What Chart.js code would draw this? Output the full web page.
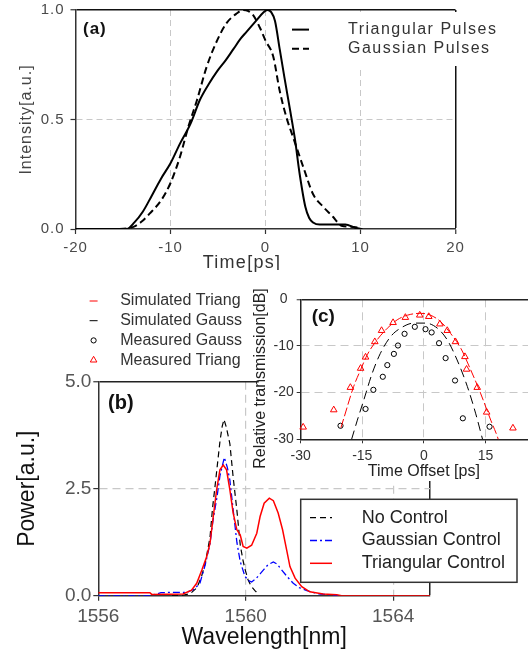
<!DOCTYPE html>
<html>
<head>
<meta charset="utf-8">
<script src="https://cdn.jsdelivr.net/npm/chart.js@4.4.1/dist/chart.umd.min.js"></script>
<style>
  html, body { margin: 0; padding: 0; background: #fff; overflow: hidden; }
  body { width: 528px; height: 657px; position: relative; }
  canvas { position: absolute; }
  #panelA { left: 0; top: 0; }
  #panelB { left: 0; top: 280px; }
  #panelC { left: 80px; top: 270px; }
</style>
</head>
<body>
<canvas id="panelA" width="528" height="275"></canvas>
<canvas id="panelB" width="528" height="377"></canvas>
<canvas id="panelC" width="480" height="211"></canvas>
<script>
// (a) pulse shapes
const triTime = [-20, -14.6, -13.8, -12.9, -12.0, -11.0, -10.0, -9.0, -7.9, -6.9, -6.0, -5.1, -4.2, -3.4, -2.6, -2.0, -1.0, -0.2, 0.2, 0.6, 1.0, 1.5, 2.0, 2.6, 3.1, 3.6, 4.2, 4.6, 5.0, 5.7, 7.0, 8.4, 9.5, 10.2];
const triIntensity = [0, 0, 0.03, 0.08, 0.15, 0.23, 0.30, 0.39, 0.48, 0.59, 0.66, 0.72, 0.77, 0.82, 0.87, 0.90, 0.95, 0.99, 1.0, 0.99, 0.95, 0.82, 0.69, 0.54, 0.41, 0.25, 0.10, 0.05, 0.03, 0.02, 0.02, 0.02, 0.005, 0];
const gaussTime = [-20, -15.5, -13.9, -13.0, -12.2, -11.0, -10.0, -9.0, -8.1, -7.2, -6.2, -5.1, -4.1, -3.0, -2.4, -1.8, -1.3, -0.6, 0.0, 0.8, 1.5, 2.2, 2.9, 4.0, 5.0, 6.1, 7.1, 7.6, 8.0, 9.0, 10.0];
const gaussIntensity = [0, 0, 0.01, 0.035, 0.07, 0.13, 0.21, 0.33, 0.47, 0.59, 0.74, 0.86, 0.94, 0.985, 1.0, 0.995, 0.977, 0.92, 0.86, 0.79, 0.63, 0.51, 0.42, 0.28, 0.16, 0.10, 0.056, 0.03, 0.015, 0.01, 0.005];

// (b) spectra
const noCtrlWl = [1558.0, 1558.3, 1558.5, 1558.68, 1558.8, 1558.9, 1559.03, 1559.1, 1559.16, 1559.23, 1559.3, 1559.36, 1559.41, 1559.47, 1559.57, 1559.66, 1559.76, 1559.85, 1559.92, 1559.98, 1560.06, 1560.15, 1560.25, 1560.32];
const noCtrlPower = [0, 0.01, 0.05, 0.19, 0.45, 0.75, 1.36, 2.05, 2.5, 3.05, 3.6, 3.95, 4.12, 3.95, 3.55, 2.76, 2.0, 1.2, 0.85, 0.62, 0.38, 0.22, 0.12, 0.06];
const gaussCtrlWl = [1556, 1557.4, 1557.7, 1558.0, 1558.4, 1558.6, 1558.76, 1558.9, 1559.03, 1559.11, 1559.22, 1559.3, 1559.42, 1559.5, 1559.57, 1559.66, 1559.76, 1559.85, 1559.98, 1560.08, 1560.16, 1560.28, 1560.39, 1560.5, 1560.6, 1560.75, 1560.85, 1560.95, 1561.12, 1561.29, 1561.45, 1561.66, 1561.85, 1562.02, 1562.3, 1562.5];
const gaussCtrlPower = [0, 0, 0.07, 0.08, 0.08, 0.15, 0.3, 0.72, 1.21, 1.75, 2.3, 2.8, 3.23, 3.0, 2.7, 2.0, 1.25, 0.8, 0.45, 0.35, 0.32, 0.4, 0.51, 0.62, 0.72, 0.79, 0.74, 0.63, 0.45, 0.29, 0.19, 0.12, 0.07, 0.04, 0.02, 0];
const triCtrlWl = [1556, 1557.4, 1557.45, 1558.3, 1558.53, 1558.67, 1558.81, 1558.94, 1559.03, 1559.12, 1559.21, 1559.3, 1559.39, 1559.48, 1559.57, 1559.66, 1559.76, 1559.85, 1559.93, 1560.03, 1560.16, 1560.3, 1560.39, 1560.5, 1560.64, 1560.75, 1560.88, 1561.0, 1561.11, 1561.2, 1561.34, 1561.52, 1561.74, 1562.1, 1562.47, 1562.6, 1565];
const triCtrlPower = [0.07, 0.07, 0.03, 0.04, 0.13, 0.29, 0.6, 0.91, 1.22, 1.85, 2.47, 2.94, 3.05, 2.94, 2.47, 1.93, 1.54, 1.42, 1.15, 1.11, 1.18, 1.46, 1.85, 2.16, 2.28, 2.22, 1.93, 1.54, 1.07, 0.68, 0.41, 0.21, 0.09, 0.04, 0.02, 0, 0];
const wlTickLabels = [1556, 1560, 1564];

// (c) relative transmission vs time offset
const simTriTime = [-20.2, -19.5, -17.1, -15.4, -13.8, -11.4, -8.9, -6.5, -4.0, -0.8, 1.6, 4.1, 6.5, 9.0, 11.4, 13.8, 16.3, 17.9, 18.3];
const simTriDb = [-27.5, -25.5, -18.7, -15.1, -11.9, -8.7, -6.2, -4.4, -3.4, -3.0, -3.4, -4.8, -7.3, -10.5, -15.1, -20.1, -25.9, -29.4, -30.5];
const simGaussTime = [-17.6, -16.2, -14.6, -12.6, -10.6, -8.1, -5.7, -2.4, 0.4, 3.3, 5.7, 8.1, 10.6, 12.6, 14.3];
const simGaussDb = [-30, -25.9, -21.5, -15.9, -11.6, -8.0, -6.2, -5.1, -5.1, -6.2, -8.7, -13.0, -18.7, -24.4, -30];
const measGaussTime = [-20.3, -14.2, -12.3, -10.0, -8.9, -7.3, -6.3, -4.7, -2.2, 0.4, 1.9, 3.7, 5.3, 7.6, 9.5, 16.0];
const measGaussDb = [-27.1, -23.5, -19.4, -16.6, -14.1, -11.7, -9.9, -7.4, -5.9, -6.4, -7.1, -9.4, -12.6, -17.4, -25.5, -27.3];
const measTriTime = [-29.4, -21.95, -17.9, -15.4, -14.2, -11.95, -10.3, -7.5, -4.5, -1.0, 1.2, 3.9, 5.7, 7.7, 10.0, 10.4, 13.0, 15.3, 21.7];
const measTriDb = [-27.4, -23.7, -18.9, -14.8, -12.4, -9.1, -6.7, -5.0, -3.9, -3.4, -3.7, -5.3, -6.7, -9.1, -12.3, -15.0, -18.9, -24.2, -27.6];

const pts = (xs, ys) => xs.map((x, i) => ({ x: x, y: ys[i] }));
const NONE = 'rgba(0,0,0,0)';
const GRID = '#c8c8c8';
const FAM = '"Liberation Sans", Arial, sans-serif';

Chart.defaults.font.family = FAM;
Chart.defaults.animation = false;
Chart.defaults.responsive = false;
Chart.defaults.plugins.legend.display = false;
Chart.defaults.plugins.tooltip.enabled = false;

// letter spacing for the top panel
const spacing = {
    id: 'spacing',
    beforeDraw(chart, args, o) { chart.ctx.letterSpacing = o.px || '0px'; }
};

// white patch behind the inset
const insetBg = {
    id: 'insetBg',
    beforeDraw(chart, args, o) {
        const c = chart.ctx;
        c.save();
        c.fillStyle = '#fff';
        c.fillRect(chart.scales.y.left + o.inset, 0, chart.width, chart.height);
        c.restore();
    }
};

// legend, samples taken from the datasets
const keyBox = {
    id: 'keyBox',
    afterDraw(chart, args, o) {
        const c = chart.ctx;
        c.save();
        if (o.box) {
            const [x1, y1, x2, y2] = o.box;
            c.fillStyle = '#fff';
            c.fillRect(x1, y1, x2 - x1, y2 - y1);
            if (o.frame) {
                c.strokeStyle = o.frame;
                c.lineWidth = 1.5;
                c.strokeRect(x1, y1, x2 - x1, y2 - y1);
            }
        }
        c.font = o.font;
        c.letterSpacing = o.spacing || '0px';
        c.textBaseline = 'middle';
        c.textAlign = 'left';
        chart.data.datasets.forEach((ds, i) => {
            const y = o.y + i * o.step;
            if (ds.showLine) {
                c.strokeStyle = ds.borderColor;
                c.lineWidth = ds.borderWidth;
                c.setLineDash(ds.borderDash || []);
                c.beginPath();
                c.moveTo(o.x, y);
                c.lineTo(o.x + o.len, y);
                c.stroke();
                c.setLineDash([]);
            } else {
                c.strokeStyle = ds.pointBorderColor;
                c.fillStyle = NONE;
                Chart.helpers.drawPoint(c, { pointStyle: ds.pointStyle, radius: ds.pointRadius, rotation: 0, borderWidth: ds.pointBorderWidth }, o.x + o.len / 2, y);
            }
            c.fillStyle = o.color;
            c.fillText(ds.label, o.textX, y);
        });
        c.restore();
    }
};

// loose text: panel letters, shifted titles
const tag = {
    id: 'tag',
    afterDraw(chart, args, o) {
        const c = chart.ctx;
        (o.items || []).forEach(t => {
            c.save();
            c.font = t.font;
            c.letterSpacing = t.spacing || '0px';
            c.fillStyle = t.color || '#111';
            c.textBaseline = 'middle';
            c.textAlign = t.align || 'left';
            c.translate(t.x, t.y);
            if (t.rotate) c.rotate(t.rotate);
            c.fillText(t.text, 0, 0);
            c.restore();
        });
    }
};

const lineSet = (label, data, color, width, dash, extra) => Object.assign({
    label: label, data: data, showLine: true, borderColor: color, borderWidth: width,
    borderDash: dash, pointRadius: 0, fill: false
}, extra || {});

const noPadY = w => s => { s.width = w; s.paddingTop = 0; s.paddingBottom = 0; };
const noPadX = h => s => { s.height = h; s.paddingLeft = 0; s.paddingRight = 0; };

// ---------- (a) ----------
new Chart(document.getElementById('panelA'), {
    type: 'scatter',
    data: {
        datasets: [
            lineSet('Triangular Pulses', pts(triTime, triIntensity), '#000', 2, [], { cubicInterpolationMode: 'monotone' }),
            lineSet('Gaussian Pulses', pts(gaussTime, gaussIntensity), '#000', 2, [7, 4], { cubicInterpolationMode: 'monotone' })
        ]
    },
    options: {
        layout: { padding: { top: 10, right: 72.5, left: 0, bottom: 0 } },
        scales: {
            x: {
                min: -20, max: 20,
                ticks: { stepSize: 10, color: '#4a4a4a', font: { size: 15 }, padding: 5, maxRotation: 0 },
                grid: {
                    color: c => c.tick.value === 20 ? '#111' : (c.tick.value === -20 ? NONE : GRID),
                    lineWidth: c => c.tick.value === 20 ? 1.5 : 1,
                    tickLength: 5, tickColor: '#333', tickWidth: 1.2, tickBorderDash: []
                },
                border: { color: '#333', width: 1.5, dash: c => (c.tick && c.tick.value === 20) ? [] : [6, 4] },
                afterFit: noPadX(46)
            },
            y: {
                min: 0, max: 1,
                ticks: { stepSize: 0.5, callback: v => v.toFixed(1), color: '#4a4a4a', font: { size: 15 }, padding: 6 },
                grid: {
                    color: c => c.tick.value === 1 ? '#111' : (c.tick.value === 0 ? NONE : GRID),
                    lineWidth: c => c.tick.value === 1 ? 1.5 : 1,
                    tickLength: 5, tickColor: '#333', tickWidth: 1.2, tickBorderDash: []
                },
                border: { color: '#333', width: 1.5, dash: c => (c.tick && c.tick.value === 1) ? [] : [6, 4] },
                title: { display: true, text: 'Intensity[a.u.]', color: '#444', font: { size: 16 }, padding: { top: 17, bottom: 0 } },
                afterFit: noPadY(75.5)
            }
        },
        plugins: {
            spacing: { px: '1px' },
            keyBox: { box: [286, 12, 505, 66], font: '16px ' + FAM, spacing: '1.5px', color: '#333', x: 292, len: 17, textX: 348, y: 29.6, step: 19.1 },
            tag: { items: [
                { text: '(a)', font: 'bold 17px ' + FAM, spacing: '1px', x: 83, y: 29.6 },
                { text: 'Time[ps]', font: '18px ' + FAM, spacing: '1.3px', color: '#333', align: 'center', x: 242, y: 263 }
            ] }
        }
    },
    plugins: [spacing, keyBox, tag]
});

// ---------- (b) ----------
new Chart(document.getElementById('panelB'), {
    type: 'scatter',
    data: {
        datasets: [
            lineSet('No Control', pts(noCtrlWl, noCtrlPower), '#000', 1.2, [6, 4], { order: 3 }),
            lineSet('Gaussian Control', pts(gaussCtrlWl, gaussCtrlPower), '#0000ff', 1.3, [7, 3, 2, 3], { order: 2 }),
            lineSet('Triangular Control', pts(triCtrlWl, triCtrlPower), '#ff0000', 1.5, [], { order: 1 })
        ]
    },
    options: {
        layout: { padding: { top: 101.7, right: 98, left: 0, bottom: 0 } },
        scales: {
            x: {
                min: 1556, max: 1565,
                ticks: {
                    stepSize: 1, autoSkip: false, maxRotation: 0, color: '#555', font: { size: 19 }, padding: 5,
                    callback: v => wlTickLabels.includes(v) ? String(v) : ''
                },
                grid: {
                    color: c => c.tick.value === 1565 ? '#222' : ((c.tick.value === 1560 || c.tick.value === 1564) ? GRID : NONE),
                    lineWidth: c => c.tick.value === 1565 ? 1.5 : 1.2,
                    tickLength: 5, tickWidth: 1.2, tickBorderDash: [],
                    tickColor: c => wlTickLabels.includes(c.tick.value) ? '#333' : NONE
                },
                border: { color: '#333', width: 1.5, dash: c => (c.tick && c.tick.value === 1565) ? [] : [8, 5] },
                title: { display: true, text: 'Wavelength[nm]', color: '#111', font: { size: 23 }, padding: { top: 0, bottom: 6 } },
                afterFit: noPadX(61.3)
            },
            y: {
                min: 0, max: 5,
                ticks: { stepSize: 2.5, callback: v => v.toFixed(1), color: '#555', font: { size: 19 }, padding: 2 },
                grid: {
                    color: c => c.tick.value === 5 ? '#222' : (c.tick.value === 0 ? NONE : GRID),
                    lineWidth: c => c.tick.value === 5 ? 1.5 : 1.2,
                    tickLength: 5, tickColor: '#333', tickWidth: 1.2, tickBorderDash: []
                },
                border: { color: '#333', width: 1.5, dash: c => (c.tick && c.tick.value === 5) ? [] : [8, 5] },
                title: { display: true, text: 'Power[a.u.]', color: '#111', font: { size: 23 }, padding: { top: 14, bottom: 0 } },
                afterFit: noPadY(98.3)
            }
        },
        plugins: {
            keyBox: { box: [300.7, 219.3, 517, 302.3], frame: '#333', font: '18px ' + FAM, color: '#222', x: 310, len: 22, textX: 361.7, y: 237.7, step: 22.8 },
            tag: { items: [{ text: '(b)', font: 'bold 20px ' + FAM, x: 108, y: 123 }] }
        }
    },
    plugins: [keyBox, tag]
});

// ---------- (c) inset ----------
new Chart(document.getElementById('panelC'), {
    type: 'scatter',
    data: {
        datasets: [
            lineSet('Simulated Triang', pts(simTriTime, simTriDb), '#ff0000', 1, [9, 3], { cubicInterpolationMode: 'monotone' }),
            lineSet('Simulated Gauss', pts(simGaussTime, simGaussDb), '#000', 1, [9, 5], { cubicInterpolationMode: 'monotone' }),
            {
                label: 'Measured Gauss', data: pts(measGaussTime, measGaussDb), showLine: false,
                pointStyle: 'circle', pointRadius: 2.6, pointBorderWidth: 1,
                pointBorderColor: '#000', borderColor: '#000', pointBackgroundColor: NONE, clip: false
            },
            {
                label: 'Measured Triang', data: pts(measTriTime, measTriDb), showLine: false,
                pointStyle: 'triangle', pointRadius: 3.8, pointBorderWidth: 1,
                pointBorderColor: '#ff0000', borderColor: '#ff0000', pointBackgroundColor: NONE, clip: false
            }
        ]
    },
    options: {
        layout: { padding: { top: 29.3, right: 13, left: 172.7, bottom: 0 } },
        scales: {
            x: {
                min: -30, max: 30,
                ticks: { stepSize: 15, maxRotation: 0, color: '#333', font: { size: 14 }, padding: 4 },
                grid: {
                    color: c => c.tick.value === -30 ? NONE : GRID,
                    tickLength: 4, tickColor: '#333', tickWidth: 1, tickBorderDash: []
                },
                border: { color: '#222', width: 1.5, dash: [8, 5] },
                title: { display: true, text: 'Time Offset [ps]', color: '#222', font: { size: 16 }, padding: { top: 0, bottom: 0 } },
                afterFit: noPadX(41.7)
            },
            y: {
                min: -30, max: 0,
                ticks: { stepSize: 10, crossAlign: 'center', color: '#333', font: { size: 14 }, padding: 3 },
                grid: {
                    color: c => c.tick.value === 0 ? '#222' : (c.tick.value === -30 ? NONE : GRID),
                    lineWidth: c => c.tick.value === 0 ? 1.5 : 1,
                    tickLength: 4, tickColor: '#333', tickWidth: 1, tickBorderDash: []
                },
                border: { color: '#222', width: 1.5, dash: c => (c.tick && c.tick.value === 0) ? [] : [8, 5] },
                afterFit: noPadY(48)
            }
        },
        plugins: {
            insetBg: { inset: 6 },
            keyBox: { font: '16px ' + FAM, color: '#333', x: 9.6, len: 8, textX: 40.2, y: 31, step: 19.7 },
            tag: { items: [
                { text: '(c)', font: 'bold 19px ' + FAM, x: 231.7, y: 46.7 },
                { text: 'Relative transmission[dB]', font: '16px ' + FAM, color: '#222', align: 'center', rotate: -Math.PI / 2, x: 181, y: 108.5 }
            ] }
        }
    },
    plugins: [insetBg, keyBox, tag]
});
</script>
</body>
</html>
